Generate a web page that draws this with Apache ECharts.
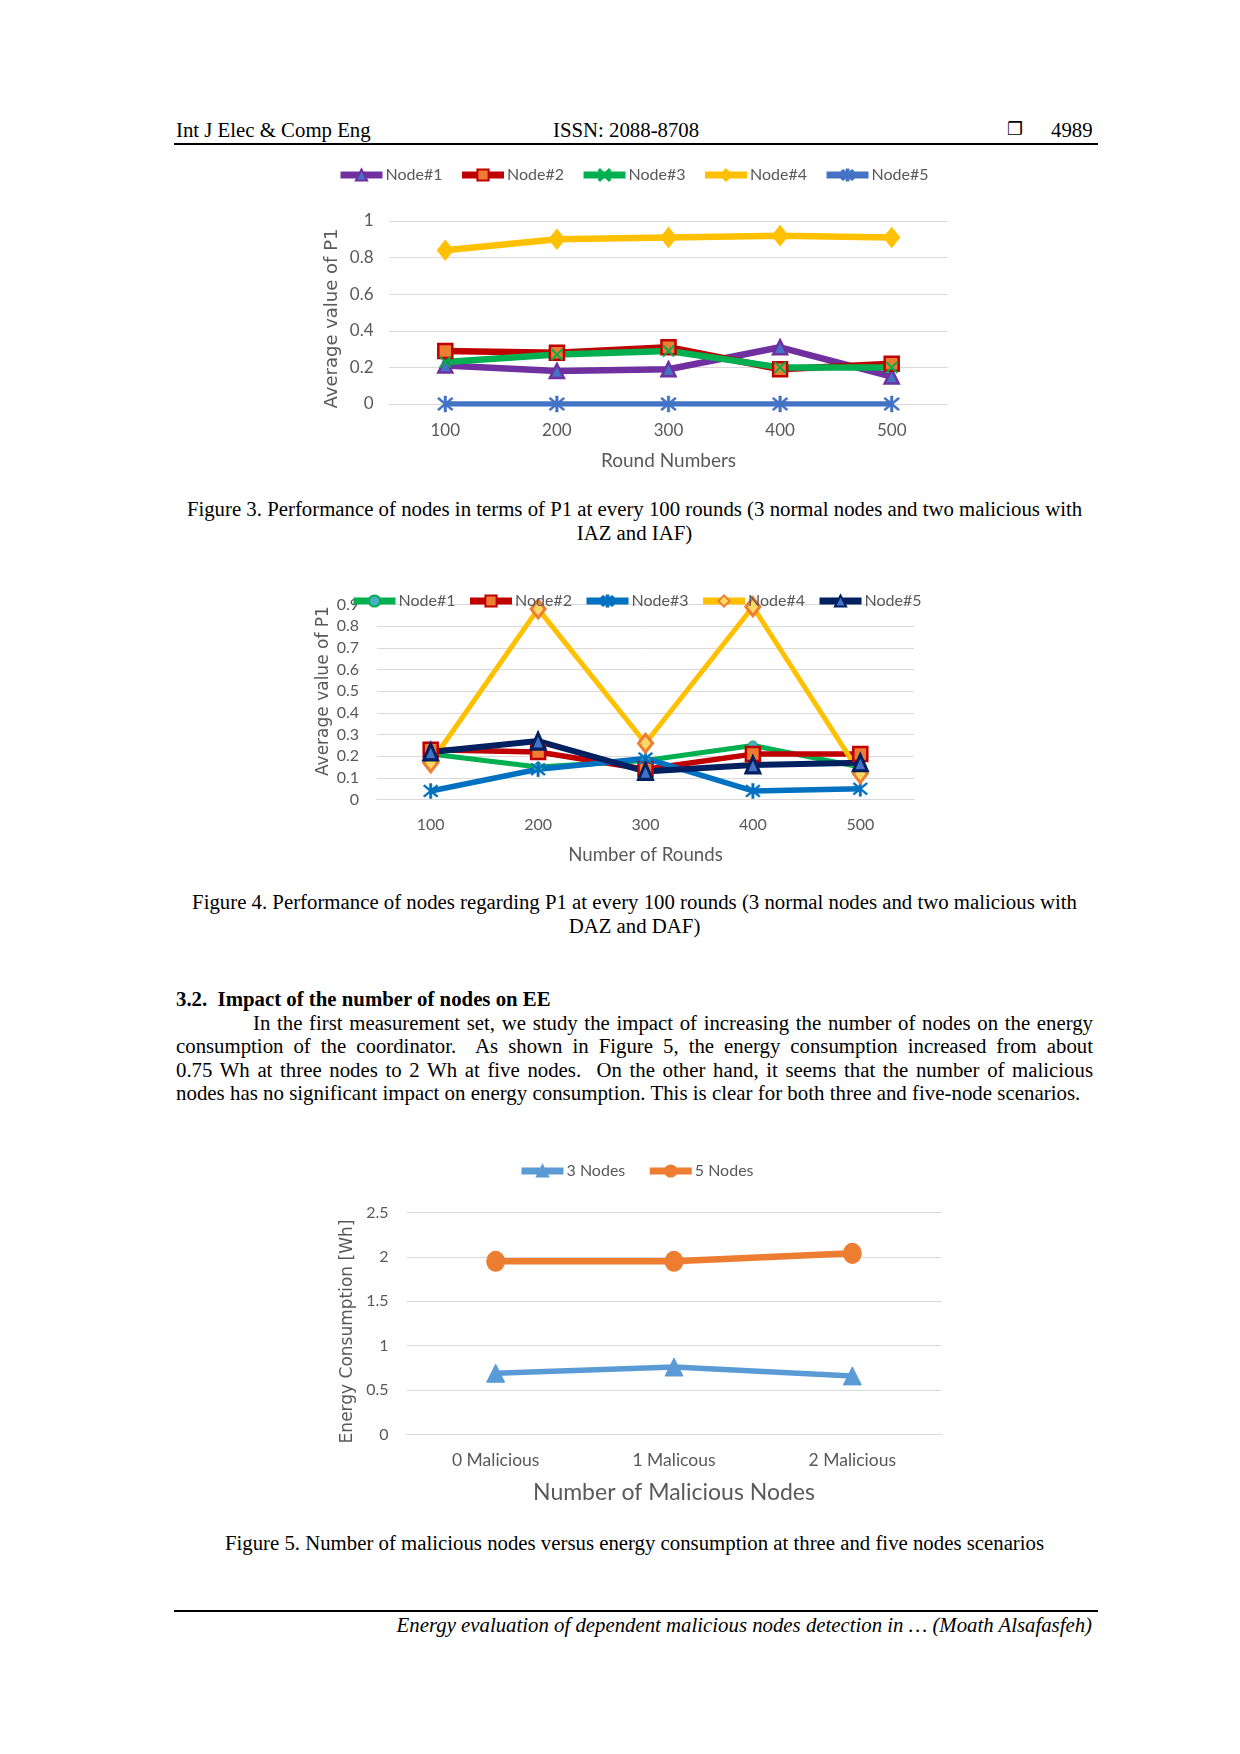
<!DOCTYPE html>
<html>
<head>
<meta charset="utf-8">
<script src="https://cdn.jsdelivr.net/npm/echarts@6/dist/echarts.min.js"></script>
<style>
  html, body { margin:0; padding:0; background:#fff; }
  body { width:1240px; height:1754px; position:relative; overflow:hidden; font-family:"Liberation Serif", "Times New Roman", serif; color:#000; }
  .t { position:absolute; font-size:20.8px; line-height:24px; white-space:nowrap; }
  .chart { position:absolute; left:0; width:1240px; }
  .jl { text-align:justify; text-align-last:justify; white-space:normal; width:917px; left:176px; }
</style>
</head>
<body>
<div class="t" style="left:176px; top:118px;">Int J Elec &amp; Comp Eng</div>
<div class="t" style="left:553px; top:118px;">ISSN: 2088-8708</div>
<div class="t" style="left:1007px; top:117px; font-family:'DejaVu Sans'; font-size:18px;">❐</div>
<div class="t" style="left:1051px; top:118px;">4989</div>
<div style="position:absolute; left:174px; top:143px; width:924px; height:2px; background:#000;"></div>

<div id="c1" class="chart" style="top:150px; height:330px;"></div>
<div class="t" style="left:176px; width:917px; top:497px; text-align:center;">Figure 3. Performance of nodes in terms of P1 at every 100 rounds (3 normal nodes and two malicious with<br>IAZ and IAF)</div>

<div id="c2" class="chart" style="top:580px; height:300px;"></div>
<div class="t" style="left:176px; width:917px; top:890px; text-align:center;">Figure 4. Performance of nodes regarding P1 at every 100 rounds (3 normal nodes and two malicious with<br>DAZ and DAF)</div>

<div class="t" style="left:176px; top:987px; font-weight:bold;">3.2.&nbsp;&nbsp;Impact of the number of nodes on EE</div>
<div class="t jl" style="top:1010.5px; padding-left:77px; width:840px;">In the first measurement set, we study the impact of increasing the number of nodes on the energy</div>
<div class="t jl" style="top:1034px;">consumption of the coordinator.&nbsp; As shown in Figure 5, the energy consumption increased from about</div>
<div class="t jl" style="top:1057.5px;">0.75 Wh at three nodes to 2 Wh at five nodes.&nbsp; On the other hand, it seems that the number of malicious</div>
<div class="t" style="left:176px; top:1081px; font-size:20.9px;">nodes has no significant impact on energy consumption. This is clear for both three and five-node scenarios.</div>

<div id="c3" class="chart" style="top:1150px; height:370px;"></div>
<div class="t" style="left:176px; width:917px; top:1531px; text-align:center;">Figure 5. Number of malicious nodes versus energy consumption at three and five nodes scenarios</div>

<div style="position:absolute; left:174px; top:1610px; width:924px; height:2px; background:#000;"></div>
<div class="t" style="right:148px; top:1613px; font-style:italic;">Energy evaluation of dependent malicious nodes detection in … (Moath Alsafasfeh)</div>

<script>
// ---------- Figure 3 data ----------
const fig3Rounds = ['100', '200', '300', '400', '500'];
const fig3Node1 = [0.21, 0.18, 0.19, 0.31, 0.15];
const fig3Node2 = [0.29, 0.28, 0.31, 0.19, 0.22];
const fig3Node3 = [0.23, 0.27, 0.29, 0.20, 0.20];
const fig3Node4 = [0.84, 0.90, 0.91, 0.92, 0.91];
const fig3Node5 = [0.00, 0.00, 0.00, 0.00, 0.00];

// ---------- Figure 4 data ----------
const fig4Rounds = ['100', '200', '300', '400', '500'];
const fig4Node1 = [0.21, 0.15, 0.18, 0.25, 0.15];
const fig4Node2 = [0.23, 0.22, 0.14, 0.21, 0.21];
const fig4Node3 = [0.04, 0.14, 0.19, 0.04, 0.05];
const fig4Node4 = [0.17, 0.88, 0.26, 0.89, 0.12];
const fig4Node5 = [0.22, 0.27, 0.13, 0.16, 0.17];

// ---------- Figure 5 data ----------
const fig5Categories = ['0 Malicious', '1 Malicous', '2 Malicious'];
const fig5ThreeNodes = [0.69, 0.76, 0.66];
const fig5FiveNodes = [1.95, 1.95, 2.04];

const xPath = 'path://M1,0L5,4L9,0L10,1L6,5L10,9L9,10L5,6L1,10L0,9L4,5L0,1Z';
const starPath = 'path://M1,0L5,4L9,0L10,1L6,5L10,9L9,10L5,6L1,10L0,9L4,5L0,1Z M4.2,-1L5.8,-1L5.8,11L4.2,11Z';

const GRAY = '#595959';
const GRID = '#D9D9D9';
const SANS = 'Lato';

function mkSeries(name, data, lineColor, lineWidth, symbol, size, fill, border, bw) {
  return {
    name: name, type: 'line', data: data,
    symbol: symbol, symbolSize: size,
    lineStyle: { color: lineColor, width: lineWidth },
    itemStyle: { color: fill, borderColor: border, borderWidth: bw },
    emphasis: { disabled: true }
  };
}

function baseOption(cfg) {
  return {
    animation: false,
    legend: {
      top: cfg.legendTop, left: cfg.legendLeft,
      itemWidth: 42, itemHeight: 14, itemGap: cfg.legendGap,
      textStyle: { fontFamily: SANS, fontSize: cfg.legendFont, color: GRAY, padding: [0, 0, 0, -2] },
      lineStyle: { width: cfg.legendLineWidth }
    },
    grid: { left: cfg.left, top: cfg.top, width: cfg.width, height: cfg.height, containLabel: false },
    xAxis: {
      type: 'category', data: cfg.cats, boundaryGap: true,
      axisLine: { show: true, lineStyle: { color: GRID, width: 1 } },
      axisTick: { show: false },
      axisLabel: { fontFamily: SANS, fontSize: cfg.tickFont, color: GRAY, margin: cfg.xMargin },
      name: cfg.xName, nameLocation: 'middle', nameGap: cfg.xNameGap,
      nameTextStyle: { fontFamily: SANS, fontSize: cfg.xNameFont, color: GRAY }
    },
    yAxis: {
      type: 'value', min: 0, max: cfg.ymax, interval: cfg.yInterval,
      axisLine: { show: false }, axisTick: { show: false },
      splitLine: { lineStyle: { color: GRID, width: 1 } },
      axisLabel: { fontFamily: SANS, fontSize: cfg.yTickFont || cfg.tickFont, color: GRAY, margin: cfg.yMargin },
      name: cfg.yName, nameLocation: 'middle', nameGap: cfg.yNameGap, nameRotate: 90,
      nameTextStyle: { fontFamily: 'DejaVu Sans', fontSize: cfg.yNameFont, color: GRAY, padding: cfg.yNamePad }
    },
    series: cfg.series
  };
}

// Figure 3
const c1 = echarts.init(document.getElementById('c1'), null, { renderer: 'canvas' });
c1.setOption(baseOption({
  legendTop: 12, legendLeft: 332, legendGap: 16, legendFont: 16, legendLineWidth: 7,
  left: 389.5, top: 71, width: 558, height: 183,
  cats: fig3Rounds, tickFont: 17, xMargin: 18,
  xName: 'Round Numbers', xNameGap: 47, xNameFont: 19,
  ymax: 1, yInterval: 0.2, yMargin: 16,
  yName: 'Average value of P1', yNameGap: 48, yNameFont: 18, yNamePad: [0, 12, 0, 0],
  series: [
    mkSeries('Node#1', fig3Node1, '#7030A0', 6.5, 'triangle', 14, '#4472C4', '#7030A0', 2.5),
    mkSeries('Node#2', fig3Node2, '#C00000', 6.5, 'rect', 14, '#ED7D31', '#C00000', 2.5),
    mkSeries('Node#3', fig3Node3, '#00B050', 6.5, xPath, 12, '#00B050', '#00B050', 0.5),
    mkSeries('Node#4', fig3Node4, '#FFC000', 6.5, 'diamond', [16, 20], '#FFC000', '#FFC000', 1),
    mkSeries('Node#5', fig3Node5, '#4472C4', 5.5, starPath, 16, '#4472C4', '#4472C4', 0.5)
  ]
}));

// Figure 4
const c2 = echarts.init(document.getElementById('c2'), null, { renderer: 'canvas' });
c2.setOption(baseOption({
  legendTop: 8, legendLeft: 345, legendGap: 11, legendFont: 16, legendLineWidth: 7,
  left: 377, top: 24.6, width: 537, height: 195,
  cats: fig4Rounds, tickFont: 16, xMargin: 17,
  xName: 'Number of Rounds', xNameGap: 46, xNameFont: 18.7,
  ymax: 0.9, yInterval: 0.1, yMargin: 18,
  yName: 'Average value of P1', yNameGap: 45, yNameFont: 17, yNamePad: [0, 0, 0, 22],
  series: [
    mkSeries('Node#1', fig4Node1, '#00B050', 5, 'circle', 9, '#4BACC6', '#00B050', 1),
    mkSeries('Node#2', fig4Node2, '#C00000', 5.5, 'rect', 14, '#ED7D31', '#C00000', 2.5),
    mkSeries('Node#3', fig4Node3, '#0070C0', 5.5, starPath, 15, '#0070C0', '#0070C0', 0.5),
    mkSeries('Node#4', fig4Node4, '#FFC000', 5, 'diamond', [14, 18], '#FFD966', '#ED7D31', 3),
    mkSeries('Node#5', fig4Node5, '#002060', 6, 'triangle', [14, 16], '#4472C4', '#002060', 3)
  ]
}));

// Figure 5
const c3 = echarts.init(document.getElementById('c3'), null, { renderer: 'canvas' });
c3.setOption(baseOption({
  legendTop: 8, legendLeft: 513, legendGap: 21, legendFont: 16, legendLineWidth: 7,
  left: 406.5, top: 62.5, width: 535, height: 222,
  cats: fig5Categories, tickFont: 17.5, yTickFont: 16, xMargin: 17,
  xName: 'Number of Malicious Nodes', xNameGap: 47, xNameFont: 23,
  ymax: 2.5, yInterval: 0.5, yMargin: 18,
  yName: 'Energy Consumption [Wh]', yNameGap: 50, yNameFont: 17, yNamePad: [0, 16, 0, 0],
  series: [
    mkSeries('3 Nodes', fig5ThreeNodes, '#5B9BD5', 5.5, 'triangle', [18, 18], '#5B9BD5', '#5B9BD5', 1),
    mkSeries('5 Nodes', fig5FiveNodes, '#ED7D31', 6.5, 'circle', [18, 20], '#ED7D31', '#ED7D31', 1)
  ]
}));
</script>
</body>
</html>
